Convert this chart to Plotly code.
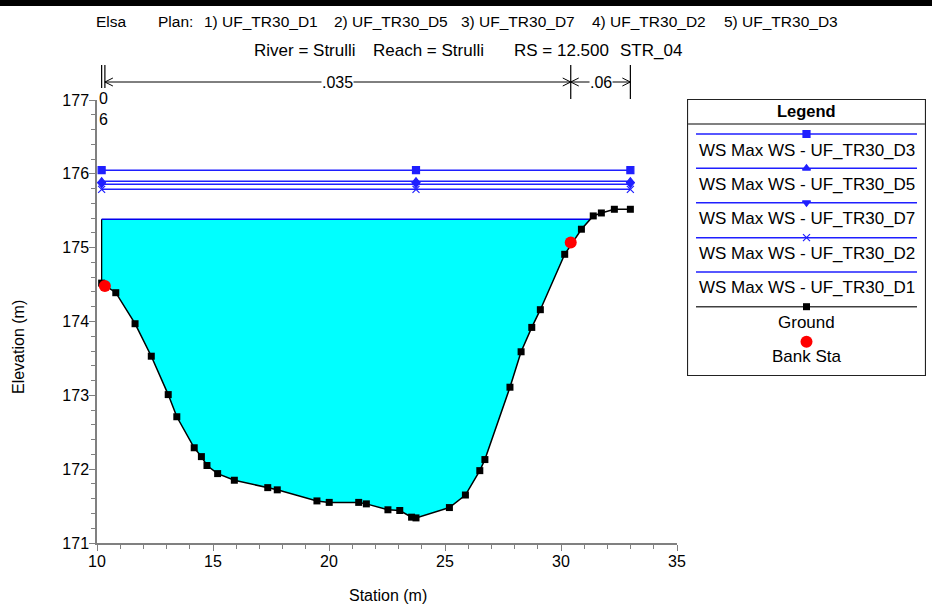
import plotly.graph_objects as go
import numpy as np

# ---------------- data ----------------
station = [10.20, 10.81, 11.64, 12.34, 13.07, 13.44, 14.19, 14.50, 14.74, 15.20,
           15.92, 17.36, 17.77, 19.48, 20.01, 21.28, 21.61, 22.54, 23.05, 23.56,
           23.75, 25.19, 25.88, 26.50, 26.72, 27.80, 28.28, 28.74, 29.11, 30.16,
           30.88, 31.39, 31.74, 32.30, 32.99]
elevation = [174.52, 174.39, 173.97, 173.53, 173.01, 172.71, 172.29, 172.17, 172.05, 171.94,
             171.85, 171.75, 171.72, 171.57, 171.55, 171.55, 171.53, 171.45, 171.44, 171.35,
             171.34, 171.48, 171.65, 171.98, 172.13, 173.11, 173.59, 173.92, 174.16, 174.91,
             175.25, 175.43, 175.47, 175.52, 175.52]
bank_station = [10.34, 30.42]
bank_elevation = [174.48, 175.07]

ws_names = ["WS Max WS - UF_TR30_D3", "WS Max WS - UF_TR30_D5", "WS Max WS - UF_TR30_D7",
            "WS Max WS - UF_TR30_D2", "WS Max WS - UF_TR30_D1"]
ws_values = [176.05, 175.90, 175.86, 175.79, 175.385]

n_breaks = [10.20, 10.34, 30.42, 32.99]
n_labels = ["0<br>6", ".035", ".06"]

x_ticks = [10, 15, 20, 25, 30, 35]
y_ticks = [171, 172, 173, 174, 175, 176, 177]

title1 = ["Elsa", "Plan:", "1) UF_TR30_D1", "2) UF_TR30_D5", "3) UF_TR30_D7",
          "4) UF_TR30_D2", "5) UF_TR30_D3"]
title2 = ["River = Strulli", "Reach = Strulli", "RS = 12.500", "STR_04"]

# ---------------- geometry helpers ----------------
W, H = 932, 609
PL, PR, PT, PB = 97, 677, 100, 543          # plot area in pixels
FONT = "Liberation Sans, Arial, sans-serif"


def px(p):
    return p / W


def py(p):
    return 1 - p / H


WS_STYLE = [
    dict(symbol="square", size=7),
    dict(symbol="triangle-up", size=7),
    dict(symbol="triangle-down", size=7),
    dict(symbol="x-thin", size=7),
    None,
]
BLUE = "#1f1fff"

fig = go.Figure()

# ---- water fill of the first plan (D1) ----
ws1 = ws_values[-1]
st = np.array(station)
el = np.array(elevation)
poly_x = [st[0], st[0]]
poly_y = [ws1, el[0]]
x_end = st[-1]
for i in range(1, len(st)):
    if el[i] >= ws1:
        t = (ws1 - el[i - 1]) / (el[i] - el[i - 1])
        x_end = st[i - 1] + t * (st[i] - st[i - 1])
        poly_x.append(x_end)
        poly_y.append(ws1)
        break
    poly_x.append(st[i])
    poly_y.append(el[i])
poly_x.append(st[0])
poly_y.append(ws1)
fig.add_trace(go.Scatter(x=poly_x, y=poly_y, fill="toself", fillcolor="#00ffff",
                         line=dict(width=0), mode="lines", hoverinfo="skip"))
# wall at left end
fig.add_trace(go.Scatter(x=[st[0], st[0]], y=[el[0], ws1], mode="lines",
                         line=dict(color="black", width=1.3)))
# D1 WS line
fig.add_trace(go.Scatter(x=[st[0], x_end], y=[ws1, ws1], mode="lines",
                         line=dict(color="#0000ee", width=1.5)))

# ---- other WS lines ----
mark_x = [station[0], station[20], station[-1]]
for name, val, sty in zip(ws_names[:-1], ws_values[:-1], WS_STYLE[:-1]):
    fig.add_trace(go.Scatter(x=[station[0], station[-1]], y=[val, val], mode="lines",
                             line=dict(color=BLUE, width=1.5), name=name))
    fig.add_trace(go.Scatter(x=mark_x, y=[val] * 3, mode="markers",
                             marker=dict(color=BLUE, symbol=sty["symbol"], size=sty["size"],
                                         line=dict(color=BLUE, width=1.2)),
                             name=name))

# ---- ground ----
fig.add_trace(go.Scatter(x=station, y=elevation, mode="lines+markers",
                         line=dict(color="black", width=1.5),
                         marker=dict(symbol="square", size=7, color="black"), name="Ground"))
# ---- bank stations ----
fig.add_trace(go.Scatter(x=bank_station, y=bank_elevation, mode="markers",
                         marker=dict(symbol="circle", size=12, color="red"), name="Bank Sta"))

shapes = []
annotations = []

# ---- Manning's n markers above the plot ----
y_arrow = py(82)
for i, b in enumerate(n_breaks):
    top = py(65)
    bot = py(88) if i < 2 else py(99)
    shapes.append(dict(type="line", xref="x", yref="paper", x0=b, x1=b, y0=top, y1=bot,
                       line=dict(color="black", width=1.2)))
sx = 25.0 / (PR - PL)   # station units per pixel
sy = 1.0 / H
for a, b in [(n_breaks[1], n_breaks[2]), (n_breaks[2], n_breaks[3])]:
    shapes.append(dict(type="line", xref="x", yref="paper", x0=a, x1=b, y0=y_arrow, y1=y_arrow,
                       line=dict(color="black", width=1)))
    for tip, d in [(a, 1), (b, -1)]:
        path = "M {x1} {y1} L {x0} {y0} L {x1} {y2}".format(
            x0=tip, y0=y_arrow, x1=tip + d * 8 * sx, y1=y_arrow + 4 * sy, y2=y_arrow - 4 * sy)
        shapes.append(dict(type="path", xref="x", yref="paper", path=path,
                           line=dict(color="black", width=1)))
annotations.append(dict(x=(n_breaks[0] + n_breaks[1]) / 2 + 0.02, y=py(109), xref="x", yref="paper",
                        text=n_labels[0], showarrow=False, font=dict(size=16, family=FONT, color="black"),
                        xanchor="center", yanchor="middle"))
for k in (1, 2):
    annotations.append(dict(x=(n_breaks[k] + n_breaks[k + 1]) / 2, y=y_arrow, xref="x", yref="paper",
                            text=n_labels[k], showarrow=False, bgcolor="white", borderpad=0,
                            font=dict(size=16, family=FONT, color="black"),
                            xanchor="center", yanchor="middle"))

# ---- titles ----
t1_left = [94, 156, 202, 332, 459, 590, 722]
for txt, xl in zip(title1, t1_left):
    annotations.append(dict(x=px(xl), y=py(22), xref="paper", yref="paper", text=txt,
                            showarrow=False, xanchor="left", yanchor="middle",
                            font=dict(size=15.5, family=FONT, color="black")))
t2_left = [252, 371, 512, 618]
for txt, xl in zip(title2, t2_left):
    annotations.append(dict(x=px(xl), y=py(50), xref="paper", yref="paper", text=txt,
                            showarrow=False, xanchor="left", yanchor="middle",
                            font=dict(size=17, family=FONT, color="black")))

# axis titles
annotations.append(dict(x=px(388), y=py(595), xref="paper", yref="paper", text="Station (m)",
                        showarrow=False, xanchor="center", yanchor="middle",
                        font=dict(size=16, family=FONT, color="black")))
annotations.append(dict(x=px(18), y=py(347), xref="paper", yref="paper", text="Elevation (m)",
                        showarrow=False, xanchor="center", yanchor="middle", textangle=-90,
                        font=dict(size=16, family=FONT, color="black")))

# top window border (drawn as a thick line across the top edge)
shapes.append(dict(type="line", xref="paper", yref="paper", x0=0, x1=1, y0=py(3), y1=py(3),
                   line=dict(color="black", width=6), layer="above"))

# ---------------- legend (drawn on a hidden pixel axis) ----------------
LX0, LX1, LY0, LY1 = 687, 926, 99, 376
shapes.append(dict(type="rect", xref="x2", yref="y2", x0=LX0 + 0.5, x1=LX1 - 0.5, y0=LY0 + 0.5,
                   y1=LY1 - 0.5, line=dict(color="#222222", width=1.2), fillcolor="white", layer="below"))
shapes.append(dict(type="line", xref="x2", yref="y2", x0=LX0 + 1, x1=LX1 - 1, y0=124, y1=124,
                   line=dict(color="#808080", width=2)))
annotations.append(dict(x=806.5, y=111, xref="x2", yref="y2", text="<b>Legend</b>", showarrow=False,
                        font=dict(size=16.5, family=FONT, color="black"), xanchor="center", yanchor="middle"))
cx = 806.5
leg_line_y = [134, 168.3, 202.7, 237.7, 272, 306.7]
leg_text_y = [150, 184, 218.5, 253, 287.5, 322.5]
LEG_FONT = dict(size=17, family=FONT, color="black")
for i, name in enumerate(ws_names):
    yl = leg_line_y[i]
    fig.add_trace(go.Scatter(x=[696, 917], y=[yl, yl], mode="lines", xaxis="x2", yaxis="y2",
                             line=dict(color=BLUE, width=1.5)))
    sty = WS_STYLE[i]
    if sty is not None:
        fig.add_trace(go.Scatter(x=[cx], y=[yl], mode="markers", xaxis="x2", yaxis="y2",
                                 marker=dict(color=BLUE, symbol=sty["symbol"], size=sty["size"],
                                             line=dict(color=BLUE, width=1.2))))
    annotations.append(dict(x=cx, y=leg_text_y[i], xref="x2", yref="y2", text=name, showarrow=False,
                            font=LEG_FONT, xanchor="center", yanchor="middle"))
yl = leg_line_y[5]
fig.add_trace(go.Scatter(x=[696, 917], y=[yl, yl], mode="lines", xaxis="x2", yaxis="y2",
                         line=dict(color="#404040", width=1.5)))
fig.add_trace(go.Scatter(x=[cx], y=[yl], mode="markers", xaxis="x2", yaxis="y2",
                         marker=dict(color="black", symbol="square", size=7)))
annotations.append(dict(x=cx, y=leg_text_y[5], xref="x2", yref="y2", text="Ground", showarrow=False,
                        font=LEG_FONT, xanchor="center", yanchor="middle"))
fig.add_trace(go.Scatter(x=[cx], y=[341.7], mode="markers", xaxis="x2", yaxis="y2",
                         marker=dict(color="red", symbol="circle", size=12)))
annotations.append(dict(x=cx, y=356, xref="x2", yref="y2", text="Bank Sta", showarrow=False,
                        font=LEG_FONT, xanchor="center", yanchor="middle"))

# ---------------- layout ----------------
axis_common = dict(showgrid=False, zeroline=False, showline=True, linecolor="#808080", linewidth=1.5,
                   ticks="outside", ticklen=6, tickcolor="#808080", tickwidth=1.2,
                   tickfont=dict(size=16, family=FONT, color="black"), automargin=False,
                   fixedrange=True)
fig.update_layout(
    width=W, height=H, margin=dict(l=0, r=0, t=0, b=0),
    paper_bgcolor="white", plot_bgcolor="rgba(0,0,0,0)", showlegend=False,
    xaxis=dict(domain=[px(PL), px(PR)], range=[10, 35], tickvals=x_ticks,
               minor=dict(dtick=1, ticks="outside", ticklen=4, tickcolor="#808080"),
               ticklabelstandoff=-3,
               **axis_common),
    yaxis=dict(domain=[py(PB), py(PT)], range=[171, 177], tickvals=y_ticks,
               minor=dict(dtick=0.2, ticks="outside", ticklen=4, tickcolor="#808080"),
               ticklabelstandoff=-3,
               **axis_common),
    xaxis2=dict(domain=[px(LX0), px(LX1)], range=[LX0, LX1], visible=False, fixedrange=True),
    yaxis2=dict(domain=[py(LY1), py(LY0)], range=[LY1, LY0], visible=False, fixedrange=True),
    shapes=shapes, annotations=annotations,
)

post = ("document.body.style.margin='0';document.body.style.overflow='hidden';"
        "var bar=document.createElement('div');"
        "bar.style.cssText='position:fixed;left:0;top:0;width:100%;height:6px;background:#000;z-index:1000;';"
        "document.body.appendChild(bar);")
fig.write_html("out.html", config={"displayModeBar": False}, post_script=post)
